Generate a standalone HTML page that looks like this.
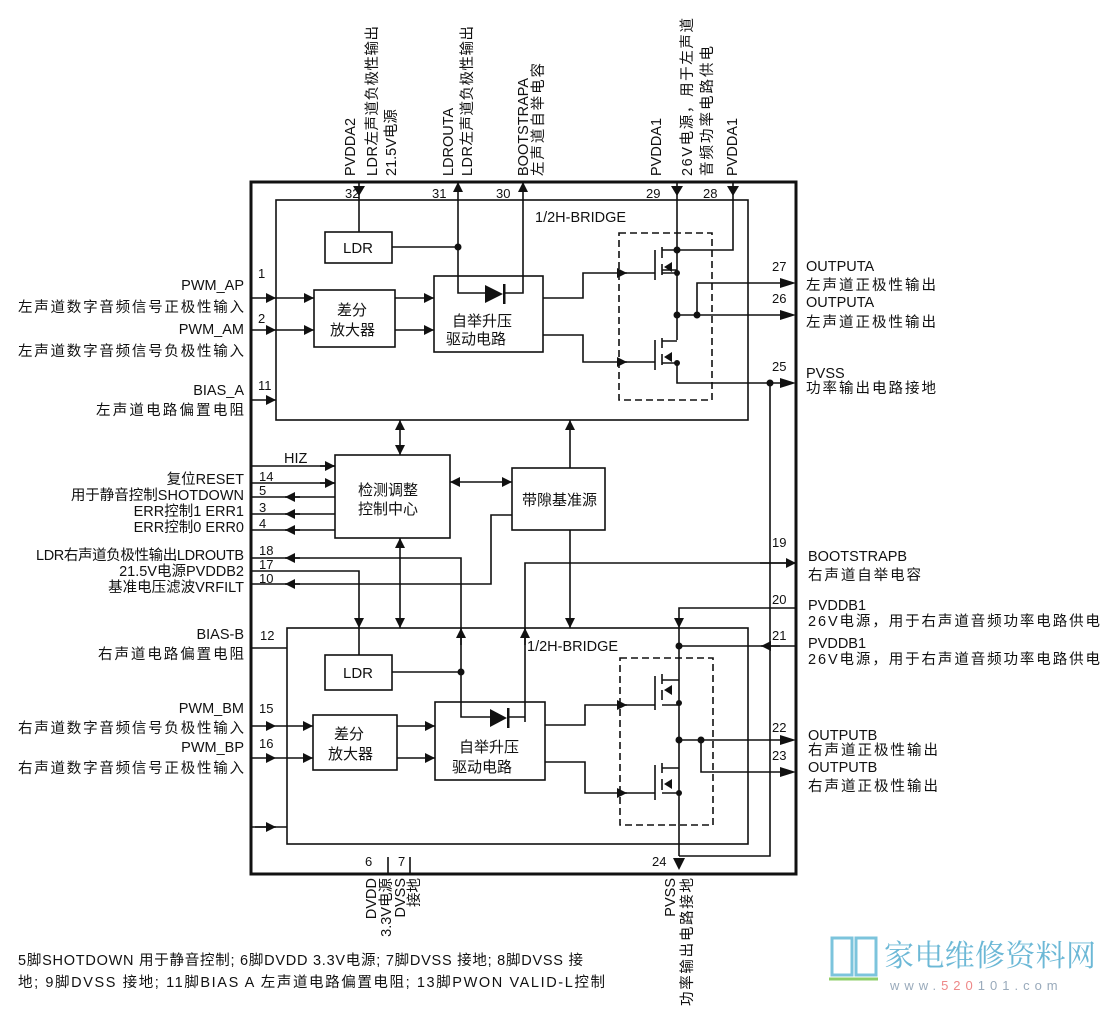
<!DOCTYPE html>
<html><head><meta charset="utf-8"><style>
html,body{margin:0;padding:0;background:#fff;}
svg{display:block;}
text{font-family:"Liberation Sans","Noto Sans CJK SC",sans-serif;fill:#111;}
.l{font-size:14.5px;}
.c{font-size:15px;}
.n{font-size:13px;}
</style></head><body>
<svg width="1105" height="1011" viewBox="0 0 1105 1011" xmlns="http://www.w3.org/2000/svg">
<defs>
<marker id="a" viewBox="0 0 10 10" refX="10" refY="5" markerWidth="10" markerHeight="10" markerUnits="userSpaceOnUse" orient="auto"><path d="M0,0L10,5L0,10z" fill="#111"/></marker>
</defs>
<g stroke="#111" stroke-width="1.6" fill="none">
<rect x="251" y="182" width="545" height="692" stroke-width="3"/>
<rect x="276" y="200" width="472" height="220"/>
<rect x="287" y="628" width="461" height="216"/>
<rect x="325" y="232" width="67" height="31"/>
<rect x="314" y="290" width="81" height="57"/>
<rect x="434" y="276" width="109" height="76"/>
<rect x="619" y="233" width="93" height="167" stroke-dasharray="7,4"/>
<rect x="335" y="455" width="115" height="83"/>
<rect x="512" y="468" width="93" height="62"/>
<rect x="325" y="655" width="67" height="35"/>
<rect x="313" y="715" width="84" height="55"/>
<rect x="435" y="702" width="110" height="78"/>
<rect x="620" y="658" width="93" height="167" stroke-dasharray="7,4"/>

<path d="M359 182V232"/>
<path d="M458 276V182" marker-end="url(#a)"/>
<path d="M392 247H458"/>
<path d="M458 276V293H485"/>
<path d="M505 293H523V182" marker-end="url(#a)"/>
<path d="M677 182V250"/>
<path d="M733 182V250H677"/>
<path d="M251 298H276" marker-end="url(#a)"/><path d="M276 298H314" marker-end="url(#a)"/>
<path d="M251 330H276" marker-end="url(#a)"/><path d="M276 330H314" marker-end="url(#a)"/>
<path d="M251 400H276" marker-end="url(#a)"/>
<path d="M395 298H434" marker-end="url(#a)"/>
<path d="M395 330H434" marker-end="url(#a)"/>
<path d="M543 298H583V273H627" marker-end="url(#a)"/><path d="M625 273H655"/>
<path d="M543 335H583V362H627" marker-end="url(#a)"/><path d="M625 362H655"/>
<path d="M655 250V280M662 247V258M662 264V275M662 270H677V250M662 250H677M662 273H677V340M677 315H790" />
<path d="M697 315V283H790"/>
<path d="M655 340V370M662 338V348M662 354V365M662 341H677M662 363H677V383H790"/>
<path d="M770 383V856H679"/>
<path d="M251 466H335M251 483H335"/>
<path d="M320 466H335" marker-end="url(#a)"/><path d="M320 483H335" marker-end="url(#a)"/>
<path d="M335 497H251M335 514H251M335 530H251"/>
<path d="M300 497H285" marker-end="url(#a)"/><path d="M300 514H285" marker-end="url(#a)"/><path d="M300 530H285" marker-end="url(#a)"/>
<path d="M400 440V420" marker-end="url(#a)"/><path d="M400 440V455" marker-end="url(#a)"/>
<path d="M570 468V420" marker-end="url(#a)"/>
<path d="M481 482H450" marker-end="url(#a)"/><path d="M481 482H512" marker-end="url(#a)"/>
<path d="M400 580V538" marker-end="url(#a)"/><path d="M400 580V628" marker-end="url(#a)"/>
<path d="M570 530V628" marker-end="url(#a)"/>
<path d="M251 558H461V672"/><path d="M300 558H285" marker-end="url(#a)"/>
<path d="M461 645V628" marker-end="url(#a)"/>
<path d="M251 571H359V628" marker-end="url(#a)"/><path d="M359 628V655"/>
<path d="M251 584H491V515H512"/><path d="M300 584H285" marker-end="url(#a)"/>
<path d="M525 722V563H796" /><path d="M760 563H796" marker-end="url(#a)"/>
<path d="M525 645V628" marker-end="url(#a)"/>
<path d="M796 608H679V628" marker-end="url(#a)"/><path d="M679 628V703"/>
<path d="M796 646H679"/><path d="M780 646H761" marker-end="url(#a)"/>
<path d="M251 648H287"/>
<path d="M392 672H461V717H490"/>
<path d="M508 717H525"/>
<path d="M251 726H276" marker-end="url(#a)"/><path d="M276 726H313" marker-end="url(#a)"/>
<path d="M251 758H276" marker-end="url(#a)"/><path d="M276 758H313" marker-end="url(#a)"/>
<path d="M397 726H435" marker-end="url(#a)"/>
<path d="M397 758H435" marker-end="url(#a)"/>
<path d="M545 725H585V705H627" marker-end="url(#a)"/><path d="M625 705H655"/>
<path d="M545 762H585V793H627" marker-end="url(#a)"/><path d="M625 793H655"/>
<path d="M655 676V710M662 674V684M662 690V700M662 705H679M662 680H679"/>
<path d="M679 703V793M679 740H790"/>
<path d="M701 740V772H790"/>
<path d="M655 765V800M662 763V773M662 779V790M662 768H679M662 793H679V856"/>
<path d="M251 827H287"/><path d="M255 827H276" marker-end="url(#a)"/>
<path d="M388 857V874M410 857V874"/>
</g>
<g fill="#111">
<path d="M780 278L796 283L780 288z"/><path d="M780 310L796 315L780 320z"/><path d="M780 378L796 383L780 388z"/>
<path d="M780 735L796 740L780 745z"/><path d="M780 767L796 772L780 777z"/>
<path d="M353 186H365L359 196z"/><path d="M671 186H683L677 196z"/><path d="M727 186H739L733 196z"/>
<path d="M673 858H685L679 870z"/>
<path d="M485 285L485 303L503 294z"/><rect x="503" y="284" width="2.5" height="20"/>
<path d="M490 709L490 727L507 718z"/><rect x="507" y="708" width="2.5" height="20"/>
<path d="M664 267L672 262L672 272z"/><path d="M664 357L672 352L672 362z"/>
<path d="M664 690L672 685L672 695z"/><path d="M664 784L672 779L672 789z"/>
<circle cx="458" cy="247" r="3.5"/><circle cx="677" cy="250" r="3.5"/><circle cx="677" cy="273" r="3"/>
<circle cx="677" cy="315" r="3.5"/><circle cx="697" cy="315" r="3.5"/><circle cx="677" cy="363" r="3"/><circle cx="770" cy="383" r="3.5"/>
<circle cx="461" cy="672" r="3.5"/><circle cx="679" cy="646" r="3.5"/><circle cx="679" cy="703" r="3"/>
<circle cx="679" cy="740" r="3.5"/><circle cx="701" cy="740" r="3.5"/><circle cx="679" cy="793" r="3"/>
</g>
<text class="c" x="358" y="253" text-anchor="middle">LDR</text>
<text class="c" x="358" y="678" text-anchor="middle">LDR</text>
<text class="c" x="337" y="315">差分</text><text class="c" x="330" y="335">放大器</text>
<text class="c" x="334" y="739">差分</text><text class="c" x="328" y="759">放大器</text>
<text class="c" x="452" y="326">自举升压</text><text class="c" x="446" y="344">驱动电路</text>
<text class="c" x="459" y="752">自举升压</text><text class="c" x="452" y="772">驱动电路</text>
<text class="c" x="358" y="495">检测调整</text><text class="c" x="358" y="514">控制中心</text>
<text class="c" x="522" y="505">带隙基准源</text>
<text class="l" x="535" y="222">1/2H-BRIDGE</text>
<text class="l" x="527" y="651">1/2H-BRIDGE</text>
<text class="l" x="284" y="463">HIZ</text>
<g class="n">
<text x="345" y="198">32</text><text x="432" y="198">31</text><text x="496" y="198">30</text><text x="646" y="198">29</text><text x="703" y="198">28</text>
<text x="258" y="278">1</text><text x="258" y="323">2</text><text x="258" y="390">11</text>
<text x="259" y="481">14</text><text x="259" y="495">5</text><text x="259" y="512">3</text><text x="259" y="528">4</text>
<text x="259" y="555">18</text><text x="259" y="569">17</text><text x="259" y="583">10</text>
<text x="260" y="640">12</text><text x="259" y="713">15</text><text x="259" y="748">16</text>
<text x="772" y="271">27</text><text x="772" y="303">26</text><text x="772" y="371">25</text>
<text x="772" y="547">19</text><text x="772" y="604">20</text><text x="772" y="640">21</text>
<text x="772" y="732">22</text><text x="772" y="760">23</text>
<text x="365" y="866">6</text><text x="398" y="866">7</text><text x="652" y="866">24</text>
</g>
<g class="l" text-anchor="end">
<text x="244" y="290">PWM_AP</text><text x="244" y="312" textLength="226">左声道数字音频信号正极性输入</text>
<text x="244" y="334">PWM_AM</text><text x="244" y="356" textLength="226">左声道数字音频信号负极性输入</text>
<text x="244" y="395">BIAS_A</text><text x="244" y="415" textLength="148">左声道电路偏置电阻</text>
<text x="244" y="484">复位RESET</text><text x="244" y="500">用于静音控制SHOTDOWN</text>
<text x="244" y="516">ERR控制1 ERR1</text><text x="244" y="532">ERR控制0 ERR0</text>
<text x="244" y="560" textLength="208">LDR右声道负极性输出LDROUTB</text><text x="244" y="576">21.5V电源PVDDB2</text><text x="244" y="592">基准电压滤波VRFILT</text>
<text x="244" y="639">BIAS-B</text><text x="244" y="659" textLength="146">右声道电路偏置电阻</text>
<text x="244" y="713">PWM_BM</text><text x="244" y="733" textLength="226">右声道数字音频信号负极性输入</text>
<text x="244" y="752">PWM_BP</text><text x="244" y="773" textLength="226">右声道数字音频信号正极性输入</text>
</g>
<g class="l">
<text x="806" y="271">OUTPUTA</text><text x="806" y="290" textLength="130">左声道正极性输出</text>
<text x="806" y="307">OUTPUTA</text><text x="806" y="327" textLength="130">左声道正极性输出</text>
<text x="806" y="378">PVSS</text><text x="806" y="393" textLength="130">功率输出电路接地</text>
<text x="808" y="561">BOOTSTRAPB</text><text x="808" y="580" textLength="113">右声道自举电容</text>
<text x="808" y="610">PVDDB1</text><text x="808" y="626" textLength="292">26V电源，用于右声道音频功率电路供电</text>
<text x="808" y="648">PVDDB1</text><text x="808" y="664" textLength="292">26V电源，用于右声道音频功率电路供电</text>
<text x="808" y="740">OUTPUTB</text><text x="808" y="755" textLength="130">右声道正极性输出</text>
<text x="808" y="772">OUTPUTB</text><text x="808" y="791" textLength="130">右声道正极性输出</text>
</g>
<g class="l">
<text transform="translate(355,176) rotate(-90)">PVDDA2</text>
<text transform="translate(377,176) rotate(-90)" textLength="150">LDR左声道负极性输出</text>
<text transform="translate(396,176) rotate(-90)">21.5V电源</text>
<text transform="translate(453,176) rotate(-90)">LDROUTA</text>
<text transform="translate(472,176) rotate(-90)" textLength="150">LDR左声道负极性输出</text>
<text transform="translate(528,176) rotate(-90)">BOOTSTRAPA</text>
<text transform="translate(543,176) rotate(-90)" textLength="113">左声道自举电容</text>
<text transform="translate(661,176) rotate(-90)">PVDDA1</text>
<text transform="translate(692,176) rotate(-90)" textLength="158">26V电源，用于左声道</text>
<text transform="translate(712,176) rotate(-90)" textLength="130">音频功率电路供电</text>
<text transform="translate(737,176) rotate(-90)">PVDDA1</text>
<text transform="translate(376,878) rotate(-90)" text-anchor="end">DVDD</text>
<text transform="translate(391,878) rotate(-90)" text-anchor="end">3.3V电源</text>
<text transform="translate(405,878) rotate(-90)" text-anchor="end">DVSS</text>
<text transform="translate(419,878) rotate(-90)" text-anchor="end">接地</text>
<text transform="translate(675,878) rotate(-90)" text-anchor="end">PVSS</text>
<text transform="translate(692,878) rotate(-90)" text-anchor="end" textLength="128">功率输出电路接地</text>
</g>
<text class="l" x="18" y="965" textLength="565">5脚SHOTDOWN 用于静音控制; 6脚DVDD 3.3V电源; 7脚DVSS 接地; 8脚DVSS 接</text>
<text class="l" x="18" y="987" textLength="587">地; 9脚DVSS 接地; 11脚BIAS A 左声道电路偏置电阻; 13脚PWON VALID-L控制</text>
<g fill="none" stroke="#7cc4dc" stroke-width="3">
<path d="M832 938H852V975H832z"/><path d="M856 938H876V975H856z"/>
</g>
<path d="M829 979H878" stroke="#8fcf6a" stroke-width="3"/>
<text x="884" y="966" textLength="212" style="font-size:30px;fill:#6cb8d6;font-family:'Noto Serif CJK SC','Noto Sans CJK SC',serif;">家电维修资料网</text>
<text x="890" y="990" style="font-size:13px;fill:#9ab;letter-spacing:5px;">www.<tspan style="fill:#e88">520</tspan>101.com</text>
</svg>
</body></html>
